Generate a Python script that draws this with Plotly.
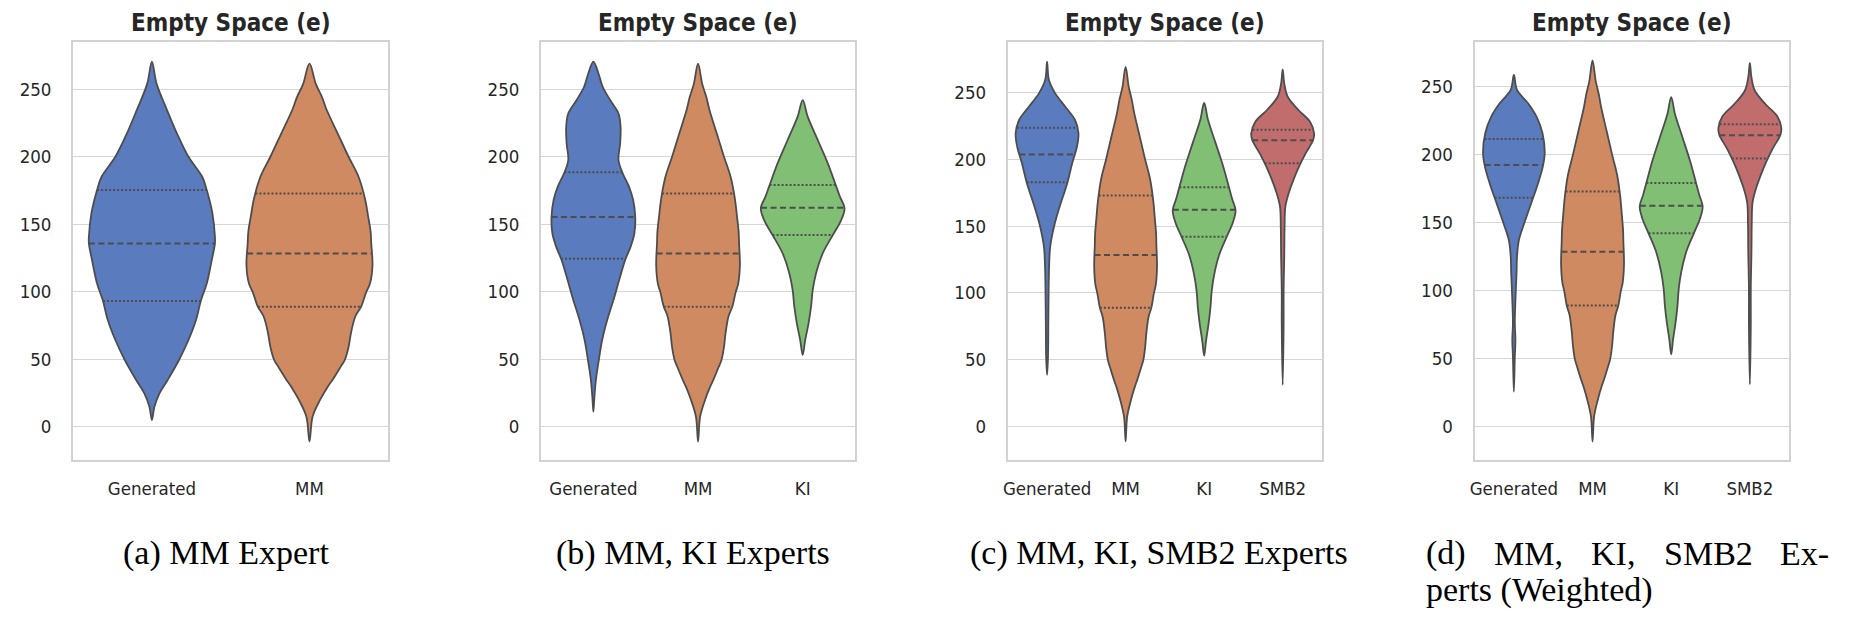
import numpy as np
import plotly.graph_objects as go

W, H = 1860, 626

TITLE = "Empty Space (e)"
TICK_VALUES = [0, 50, 100, 150, 200, 250]

# ---- violin profiles: value levels and relative half-width (0..1) ----
gen_a_y = [4.9, 14.8, 24.7, 34.6, 49.4, 64.2, 79, 93.8, 106, 123.5, 135.8, 140.7, 158, 175.3, 185, 200, 217, 234.6, 254, 270.4]
gen_a_w = [0, 0.04, 0.12, 0.25, 0.43, 0.58, 0.7, 0.78, 0.87, 0.95, 1.0, 1.0, 0.96, 0.87, 0.8, 0.58, 0.4, 0.24, 0.075, 0]
gen_a_q = [93.1, 135.8, 175.3]

mm_y = [-11, 7.5, 20, 29.6, 35, 44, 49.4, 59, 69.8, 82, 89, 99.7, 106, 119.6, 136, 144.5, 156, 169, 185, 200, 217, 235, 244, 254, 269]
mm_w = [0, 0.05, 0.17, 0.29, 0.37, 0.49, 0.56, 0.62, 0.66, 0.73, 0.82, 0.9, 0.96, 1.0, 0.98, 0.97, 0.93, 0.88, 0.78, 0.62, 0.45, 0.27, 0.2, 0.1, 0]
mm_q = [88.9, 128.4, 172.8]

gen_b_y = [11.1, 19.8, 34.6, 49.4, 64.2, 79, 93.9, 111.2, 123.5, 133.4, 143.3, 155.6, 168, 177.9, 187.7, 197.6, 210, 222, 232, 242, 252, 261.9, 270.5]
gen_b_w = [0, 0.02, 0.06, 0.13, 0.21, 0.33, 0.48, 0.64, 0.76, 0.89, 0.98, 1.0, 0.95, 0.85, 0.7, 0.6, 0.64, 0.65, 0.6, 0.4, 0.22, 0.12, 0]
gen_b_q = [124.5, 155.4, 188.5]

ki_y = [53.1, 64.2, 76.6, 88.9, 101.3, 113.7, 128.5, 142, 153.1, 161.8, 170.4, 179, 195.1, 212.4, 229.7, 242]
ki_w = [0, 0.06, 0.14, 0.2, 0.24, 0.32, 0.48, 0.72, 0.92, 1.0, 0.89, 0.79, 0.6, 0.36, 0.12, 0]
ki_q = [142, 162.2, 179]

gen_c_y = [38.7, 52.3, 77.3, 102.2, 119.6, 134.6, 149.5, 164.5, 181.9, 196.9, 209.3, 219.3, 229.3, 239.2, 249.2, 259.2, 272.9]
gen_c_w = [0, 0.03, 0.04, 0.05, 0.065, 0.1, 0.22, 0.4, 0.64, 0.8, 0.95, 1.0, 0.89, 0.58, 0.26, 0.06, 0]
gen_c_q = [182.7, 203.6, 223.5]

smb2_y = [31.2, 77.3, 102.2, 127.1, 149.5, 164.5, 174.5, 184.4, 194.4, 204.4, 214.3, 219.3, 228, 236.8, 246.7, 256.7, 267.2]
smb2_w = [0, 0.03, 0.03, 0.05, 0.06, 0.085, 0.19, 0.34, 0.52, 0.73, 0.97, 1.0, 0.87, 0.5, 0.16, 0.05, 0]
smb2_q = [196.9, 214.1, 222.1]

gen_d_y = [25.7, 51.4, 63.7, 76, 93.1, 112.7, 124.9, 137.1, 149.4, 164.1, 178.8, 191, 200.8, 215.5, 227.7, 237.5, 247.3, 258.3]
gen_d_w = [0, 0.03, 0.05, 0.03, 0.05, 0.085, 0.1, 0.16, 0.33, 0.55, 0.77, 0.92, 0.98, 0.91, 0.72, 0.45, 0.1, 0]
gen_d_q = [168.2, 192.2, 211.3]

# ---- panels ----
panel_categories = [
    ["Generated", "MM"],
    ["Generated", "MM", "KI"],
    ["Generated", "MM", "KI", "SMB2"],
    ["Generated", "MM", "KI", "SMB2"],
]
panel_profiles = [
    [(gen_a_y, gen_a_w, gen_a_q), (mm_y, mm_w, mm_q)],
    [(gen_b_y, gen_b_w, gen_b_q), (mm_y, mm_w, mm_q), (ki_y, ki_w, ki_q)],
    [(gen_c_y, gen_c_w, gen_c_q), (mm_y, mm_w, mm_q), (ki_y, ki_w, ki_q), (smb2_y, smb2_w, smb2_q)],
    [(gen_d_y, gen_d_w, gen_d_q), (mm_y, mm_w, mm_q), (ki_y, ki_w, ki_q), (smb2_y, smb2_w, smb2_q)],
]
category_colors = {"Generated": "#5a7bbe", "MM": "#d08a61", "KI": "#80bf74", "SMB2": "#c16d6d"}
panel_yranges = [[-24.7, 284.8], [-24.7, 284.8], [-24.9, 287.4], [-24.5, 282.3]]

# pixel layout of the four axes boxes
panel_px = [(68.3, 384.3), (537.5, 852.3), (1005.5, 1320.5), (1473.5, 1789.0)]
BOX_TOP, BOX_BOTTOM = 42.3, 460.0

captions = ["(a) MM Expert", "(b) MM, KI Experts", "(c) MM, KI, SMB2 Experts"]
caption_centers = [222, 689.5, 1157]
caption_d_words = ["(d)", "MM,", "KI,", "SMB2", "Ex-"]
caption_d_word_left = [1423, 1491, 1588, 1661, 1778]
caption_d_line2 = "perts (Weighted)"

HALF = 0.4
LINE = "#4d4d4d"
TEXT = "#262626"
SANS = "DejaVu Sans Condensed, DejaVu Sans, Verdana, sans-serif"
SERIF = "Liberation Serif, Times New Roman, serif"

fig = go.Figure()
layout = dict(
    width=W, height=H, margin=dict(l=0, r=0, t=0, b=0),
    paper_bgcolor="white", plot_bgcolor="white", showlegend=False,
)

def px_to_paper_x(x):
    return x / W

def px_to_paper_y(y):
    return 1 - y / H

for p, (cats, profs) in enumerate(zip(panel_categories, panel_profiles)):
    ax = "" if p == 0 else str(p + 1)
    xref, yref = "x" + ax, "y" + ax
    for i, (cat, (ys, ws, qs)) in enumerate(zip(cats, profs)):
        ys = np.asarray(ys, float)
        ws = np.asarray(ws, float)
        xr = i + HALF * ws
        xl = i - HALF * ws
        px = np.concatenate([xr, xl[::-1][1:]])
        py = np.concatenate([ys, ys[::-1][1:]])
        fig.add_trace(go.Scatter(
            x=px, y=py, mode="lines", fill="toself",
            fillcolor=category_colors[cat],
            line=dict(color=LINE, width=1.8, shape="spline", smoothing=1.0),
            xaxis=xref, yaxis=yref, hoverinfo="skip",
        ))
        for k, q in enumerate(qs):
            hw = HALF * np.interp(q, ys, ws)
            fig.add_trace(go.Scatter(
                x=[i - hw, i + hw], y=[q, q], mode="lines",
                line=dict(color=LINE, width=2.0,
                          dash="6px,3.5px" if k == 1 else "2px,2px"),
                xaxis=xref, yaxis=yref, hoverinfo="skip",
            ))
    x0, x1 = panel_px[p]
    layout["xaxis" + ax] = dict(
        domain=[px_to_paper_x(x0), px_to_paper_x(x1)],
        range=[-0.5, len(cats) - 0.5],
        tickmode="array", tickvals=list(range(len(cats))), ticktext=cats,
        showgrid=False, zeroline=False,
        showline=True, mirror=True, linecolor="#d2d2d2", linewidth=2,
        ticks="", ticklabelstandoff=11,
        tickfont=dict(family=SANS, size=18.5, color=TEXT),
        anchor=yref, fixedrange=True,
    )
    layout["yaxis" + ax] = dict(
        domain=[px_to_paper_y(BOX_BOTTOM), px_to_paper_y(BOX_TOP)],
        range=panel_yranges[p],
        tickmode="array", tickvals=TICK_VALUES,
        showgrid=True, gridcolor="#d6d6d6", gridwidth=1.3, zeroline=False,
        showline=True, mirror=True, linecolor="#d2d2d2", linewidth=2,
        ticks="", ticklabelstandoff=16,
        tickfont=dict(family=SANS, size=18.5, color=TEXT),
        anchor=xref, fixedrange=True,
    )

annotations = []
for p in range(4):
    x0, x1 = panel_px[p]
    annotations.append(dict(
        text="<b>" + TITLE + "</b>", x=px_to_paper_x((x0 + x1) / 2), y=px_to_paper_y(23),
        xref="paper", yref="paper", xanchor="center", yanchor="middle", showarrow=False,
        font=dict(family=SANS, size=24, color=TEXT),
    ))
for cap, cx in zip(captions, caption_centers):
    annotations.append(dict(
        text=cap, x=px_to_paper_x(cx), y=px_to_paper_y(553),
        xref="paper", yref="paper", xanchor="center", yanchor="middle", showarrow=False,
        font=dict(family=SERIF, size=34, color="black"),
    ))
for word, lx in zip(caption_d_words, caption_d_word_left):
    annotations.append(dict(
        text=word, x=px_to_paper_x(lx), y=px_to_paper_y(553),
        xref="paper", yref="paper", xanchor="left", yanchor="middle", showarrow=False,
        font=dict(family=SERIF, size=34, color="black"),
    ))
annotations.append(dict(
    text=caption_d_line2, x=px_to_paper_x(1423), y=px_to_paper_y(590),
    xref="paper", yref="paper", xanchor="left", yanchor="middle", showarrow=False,
    font=dict(family=SERIF, size=34, color="black"),
))
layout["annotations"] = annotations
fig.update_layout(**layout)
fig.write_html("out.html")
